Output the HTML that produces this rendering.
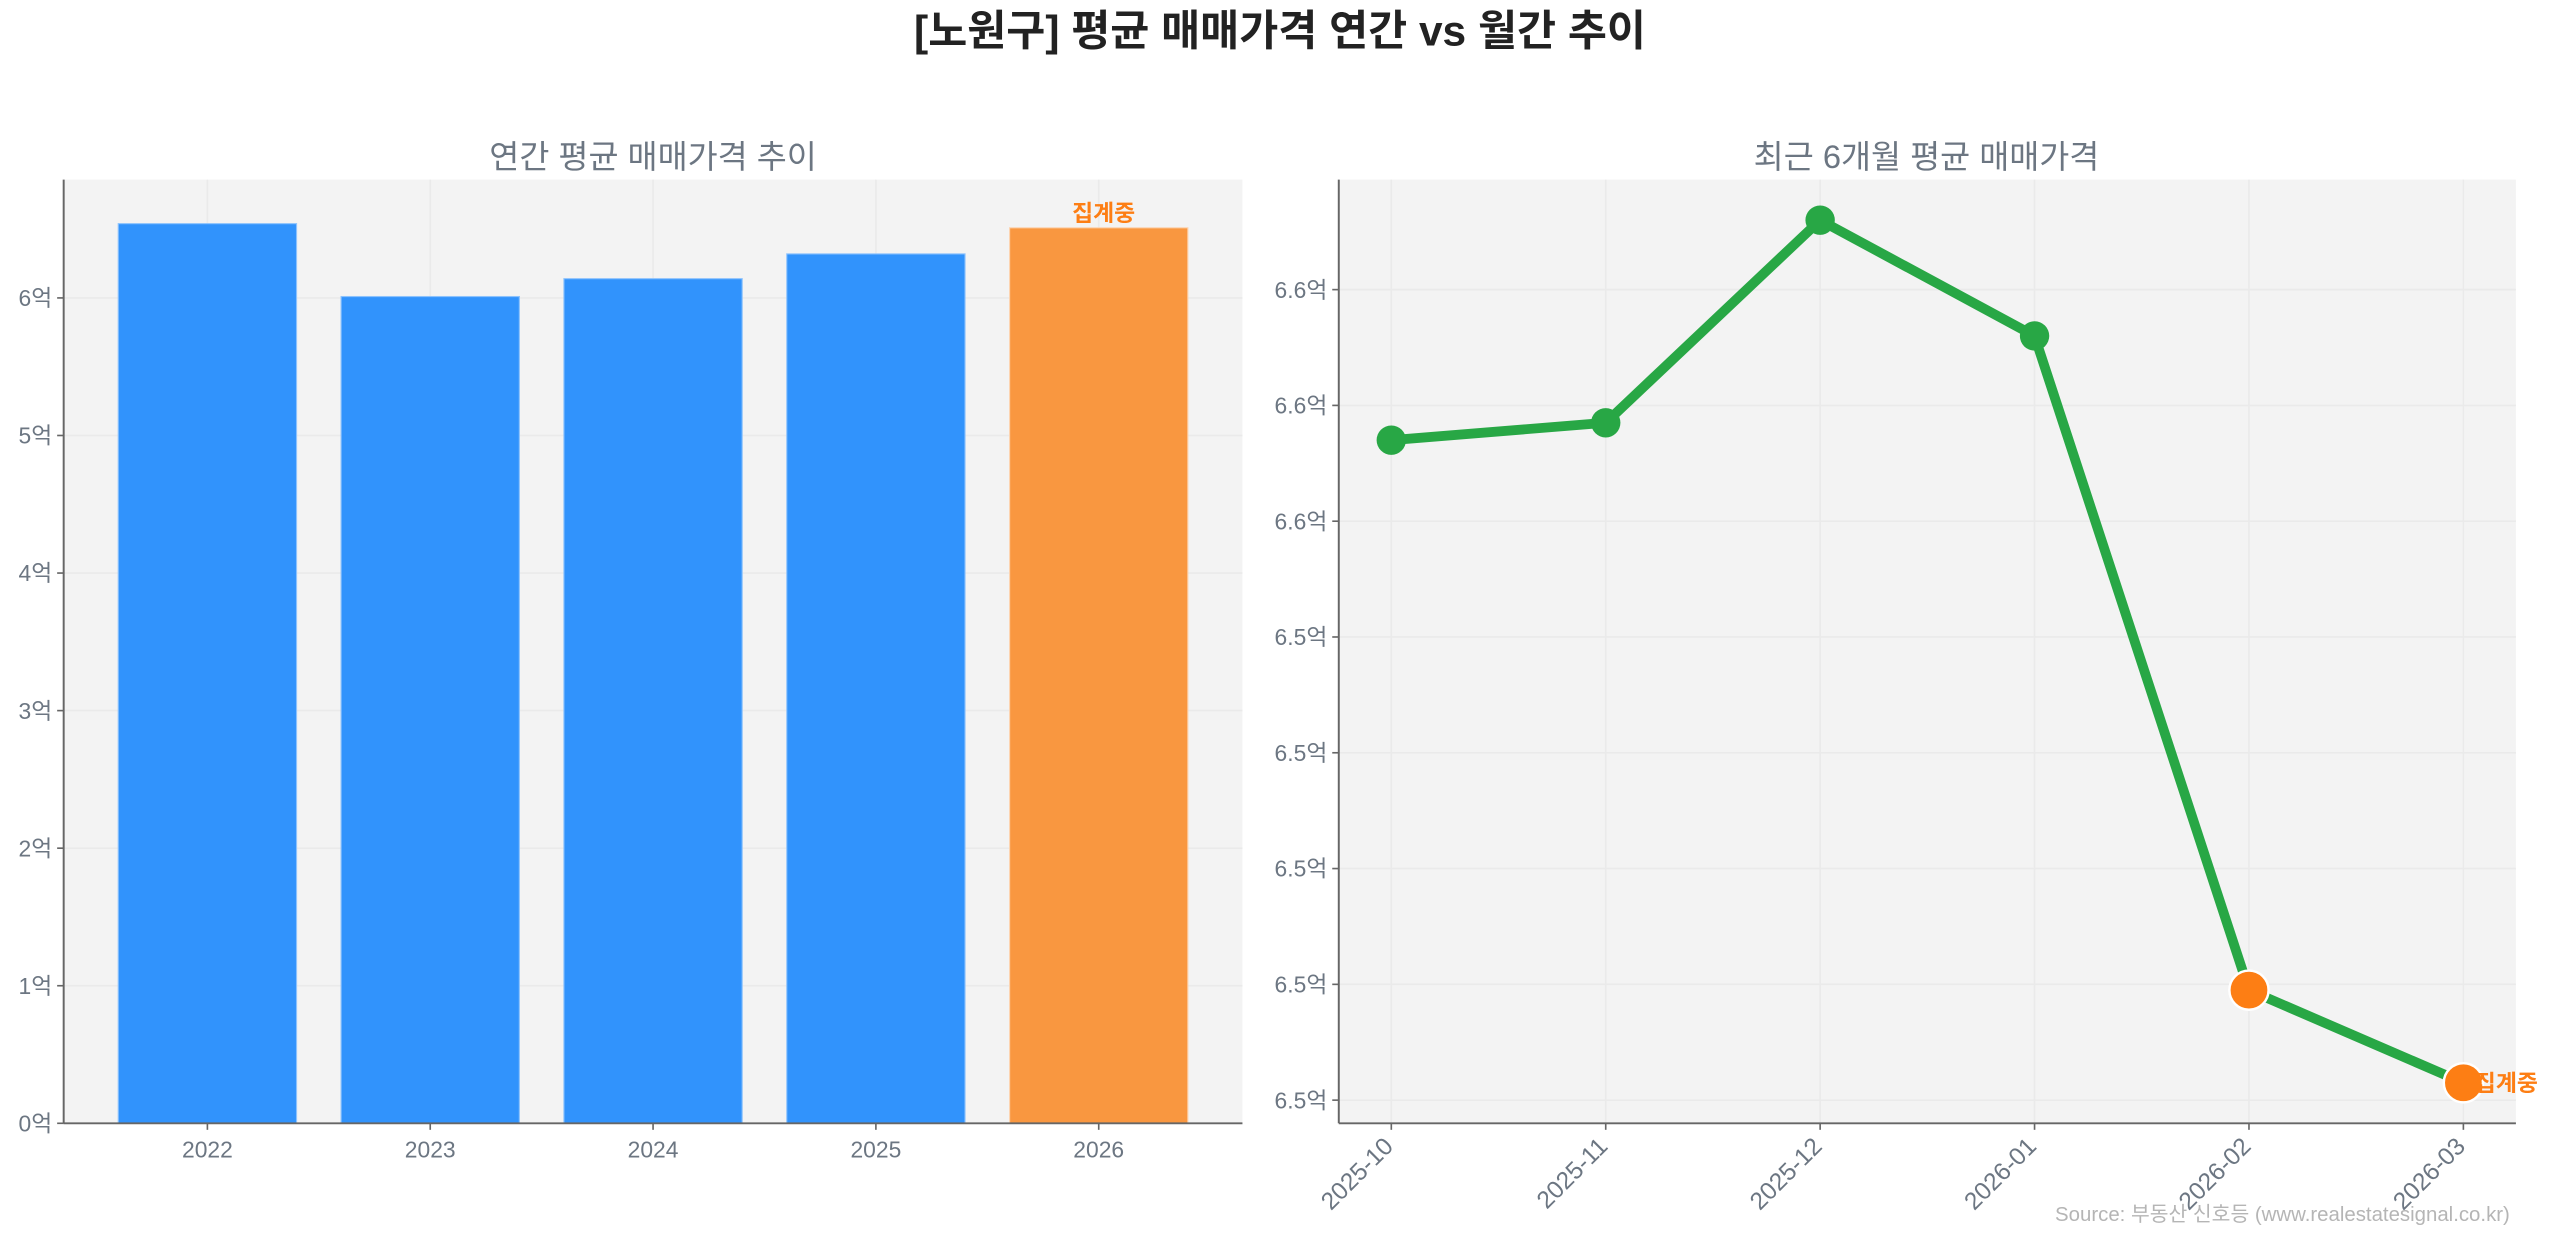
<!DOCTYPE html>
<html><head><meta charset="utf-8"><style>
html,body{margin:0;padding:0;background:#fff;}
svg{display:block;font-family:"Liberation Sans","Noto Sans CJK KR",sans-serif;}
</style></head><body>
<svg id="c" width="2560" height="1235" viewBox="0 0 1568 756.4">
<text x="784" y="28" text-anchor="middle" font-size="26" font-weight="bold" fill="#222">[노원구] 평균 매매가격 연간 vs 월간 추이</text>
<text x="400" y="103" text-anchor="middle" font-size="20" fill="#6c7682">연간 평균 매매가격 추이</text>
<text x="1180" y="103" text-anchor="middle" font-size="20" fill="#6c7682">최근 6개월 평균 매매가격</text>
<g id="L"></g>
<g id="R"></g>
<text x="1398" y="748" text-anchor="middle" font-size="12.5" fill="#b5b5b5">Source: 부동산 신호등 (www.realestatesignal.co.kr)</text>
</svg>
<script>
const years=["2022","2023","2024","2025","2026"];
const annualValues=[6.54,6.01,6.14,6.32,6.51];
const leftTicks=[0,1,2,3,4,5,6];
const months=["2025-10","2025-11","2025-12","2026-01","2026-02","2026-03"];
const monthlyValues=[6.5534,6.5537,6.5572,6.5552,6.5439,6.5423];
const rightTicks=[6.542,6.544,6.546,6.548,6.550,6.552,6.554,6.556];
const NS="http://www.w3.org/2000/svg";
function mk(p,t,a){const e=document.createElementNS(NS,t);for(const k in a)e.setAttribute(k,a[k]);p.appendChild(e);return e;}
const G='#eaeaea';
// left
const L=document.getElementById('L');
const lx0=39,lx1=761,ty=110,by=688;
const lxs=i=>lx0+(i+0.645)/5.29*(lx1-lx0);
const lys=v=>by-v/6.86*(by-ty);
let bg=mk(L,'rect',{x:lx0,y:ty,width:lx1-lx0,height:by-ty,fill:'#f3f3f3'});

leftTicks.forEach(v=>{const y=lys(v);
 mk(L,'line',{x1:lx0,x2:lx1,y1:y,y2:y,stroke:G,'stroke-width':1});
 mk(L,'line',{x1:lx0-4,x2:lx0,y1:y,y2:y,stroke:'#666'});
 const t=mk(L,'text',{x:lx0-7,y:y+5,'text-anchor':'end','font-size':14,fill:'#6c7682'});t.textContent=v+'억';
 });
years.forEach((yr,i)=>{const x=lxs(i);
 mk(L,'line',{x1:x,x2:x,y1:ty,y2:by,stroke:G});
 const last=i===years.length-1;
 const r=mk(L,'rect',{x:x-0.4/5.29*(lx1-lx0),y:lys(annualValues[i]),width:0.8/5.29*(lx1-lx0),height:by-lys(annualValues[i]),fill:last?'#f99740':'#3193fc',stroke:last?'#fcd3b0':'#8cc2fd','stroke-width':0.7});
 
 mk(L,'line',{x1:x,x2:x,y1:by,y2:by+4,stroke:'#666'});
 const t=mk(L,'text',{x:x,y:by+21,'text-anchor':'middle','font-size':14,fill:'#6c7682'});t.textContent=yr;
 
 if(last){const a=mk(L,'text',{x:x+3,y:lys(annualValues[i])-4,'text-anchor':'middle','font-size':14,'font-weight':'bold',fill:'#fd7e14'});a.textContent='집계중';
  }
});
mk(L,'line',{x1:lx0,x2:lx0,y1:ty,y2:by,stroke:'#666','stroke-width':1.2});
mk(L,'line',{x1:lx0,x2:lx1,y1:by,y2:by,stroke:'#666','stroke-width':1.2});
// right
const R=document.getElementById('R');
const rx0=820,rx1=1541;
const rxs=i=>rx0+(i+0.245)/5.49*(rx1-rx0);
const ymin=6.5416,ymax=6.5579;
const rys=v=>by-(v-ymin)/(ymax-ymin)*(by-ty);
bg=mk(R,'rect',{x:rx0,y:ty,width:rx1-rx0,height:by-ty,fill:'#f3f3f3'});

rightTicks.forEach(v=>{const y=rys(v);
 mk(R,'line',{x1:rx0,x2:rx1,y1:y,y2:y,stroke:G});
 mk(R,'line',{x1:rx0-4,x2:rx0,y1:y,y2:y,stroke:'#666'});
 const t=mk(R,'text',{x:rx0-7,y:y+5,'text-anchor':'end','font-size':14,fill:'#6c7682'});t.textContent=v.toFixed(1)+'억';
 });
months.forEach((m,i)=>{const x=rxs(i);
 mk(R,'line',{x1:x,x2:x,y1:ty,y2:by,stroke:G});
 mk(R,'line',{x1:x,x2:x,y1:by,y2:by+4,stroke:'#666'});
 const t=mk(R,'text',{x:x+2,y:by+15,'text-anchor':'end','font-size':15,fill:'#6c7682',transform:`rotate(-45 ${x+2} ${by+15})`});t.textContent=m;
 });
mk(R,'line',{x1:rx0,x2:rx0,y1:ty,y2:by,stroke:'#666','stroke-width':1.2});
mk(R,'line',{x1:rx0,x2:rx1,y1:by,y2:by,stroke:'#666','stroke-width':1.2});
const pl=mk(R,'polyline',{points:monthlyValues.map((v,i)=>rxs(i)+','+rys(v)).join(' '),fill:'none',stroke:'#28a745','stroke-width':6,'stroke-linejoin':'round'});

monthlyValues.forEach((v,i)=>{const recent=i>=monthlyValues.length-2;
 const c=mk(R,'circle',{cx:rxs(i),cy:rys(v),r:recent?12:9,fill:recent?'#fd7e14':'#28a745',stroke:recent?'#fff':'none','stroke-width':1.5});
 });
const lab=mk(R,'text',{x:rxs(5)+7,y:rys(monthlyValues[5])+5,'font-size':14,'font-weight':'bold',fill:'#fd7e14'});lab.textContent='집계중';

</script>
</body></html>
